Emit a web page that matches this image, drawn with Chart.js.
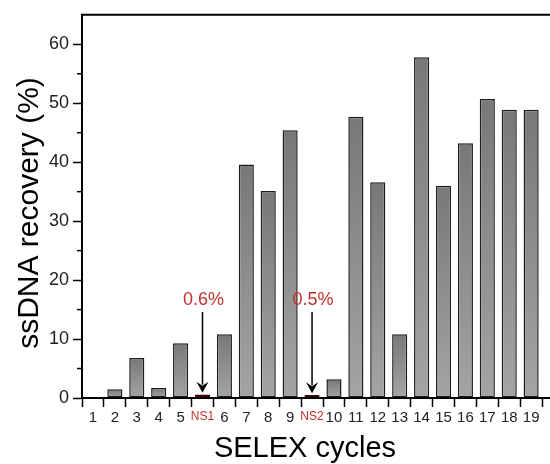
<!DOCTYPE html>
<html>
<head>
<meta charset="utf-8">
<script src="https://cdn.jsdelivr.net/npm/chart.js@4.4.1/dist/chart.umd.min.js"></script>
<style>
	html, body { margin: 0; padding: 0; background: #fff; overflow: hidden; }
	#wrap { width: 566px; height: 464px; }
</style>
</head>
<body>
<div id="wrap"><canvas id="chart"></canvas></div>
<script>
// cycles (the trailing blank slot is the empty end of the axis)
let cycles = ["1","2","3","4","5","NS1","6","7","8","9","NS2","10","11","12","13","14","15","16","17","18","19",""];
let recovery = [0, 1.5, 6.8, 1.7, 9.3, 0.6, 10.8, 39.6, 35.1, 45.4, 0.5, 3.2, 47.7, 36.6, 10.8, 57.8, 36.0, 43.2, 50.7, 48.9, 48.9, null];
let yTicks = [0, 10, 20, 30, 40, 50, 60];
let yMinor = [5, 15, 25, 35, 45, 55];
let noteLabels = ["NS1", "NS2"];
let noteTexts = ["0.6%", "0.5%"];
let noteTop = [16.6, 16.6];    // y value of the text
let arrowFrom = [14.6, 14.6];  // y value where arrow starts
let arrowTo = [0.9, 0.8];      // y value of arrow tip

const RED = "#c0302b";
const FONT = "'Liberation Sans', Arial, sans-serif";

function isNS(i) { return cycles[i] && cycles[i].indexOf("NS") === 0; }

function barFill(ctx) {
	let chart = ctx.chart;
	let i = ctx.dataIndex;
	if (isNS(i)) return "#8e1c1c";
	let y = chart.scales.y;
	if (!y || !chart.chartArea) return "#8c8c8c";
	let top = y.getPixelForValue(recovery[i] || 0);
	let bot = y.getPixelForValue(0);
	if (!(bot > top)) return "#8c8c8c";
	let g = chart.ctx.createLinearGradient(0, top, 0, bot);
	g.addColorStop(0, "#787878");
	g.addColorStop(1, "#a4a4a4");
	return g;
}

let decor = {
	id: "decor",
	afterDraw(chart) {
		let c = chart.ctx;
		let a = chart.chartArea;
		let x = chart.scales.x, y = chart.scales.y;
		c.save();
		// top frame line
		c.strokeStyle = "#000";
		c.lineWidth = 2;
		c.beginPath();
		c.moveTo(a.left - 1, a.top);
		c.lineTo(chart.width, a.top);
		c.stroke();
		// minor y ticks
		c.lineWidth = 1.5;
		yMinor.forEach(v => {
			let py = y.getPixelForValue(v);
			c.beginPath();
			c.moveTo(a.left - 5, py);
			c.lineTo(a.left, py);
			c.stroke();
		});
		// notes with arrows
		noteLabels.forEach((lab, k) => {
			let px = x.getPixelForValue(cycles.indexOf(lab));
			c.fillStyle = RED;
			c.font = "18px " + FONT;
			c.textAlign = "center";
			c.textBaseline = "bottom";
			c.fillText(noteTexts[k], px + 1, y.getPixelForValue(noteTop[k]) + 9);
			let y0 = y.getPixelForValue(arrowFrom[k]);
			let y1 = y.getPixelForValue(arrowTo[k]);
			c.strokeStyle = "#000";
			c.lineWidth = 1.5;
			c.beginPath();
			c.moveTo(px, y0);
			c.lineTo(px, y1 - 8);
			c.stroke();
			c.fillStyle = "#000";
			c.beginPath();
			c.moveTo(px - 6, y1 - 11);
			c.lineTo(px, y1 - 7);
			c.lineTo(px + 6, y1 - 11);
			c.lineTo(px, y1);
			c.closePath();
			c.fill();
		});
		// axis titles
		c.fillStyle = "#000";
		c.font = "29px " + FONT;
		c.textAlign = "center";
		c.textBaseline = "middle";
		c.fillText("SELEX cycles", 305, 449);
		c.font = "30px " + FONT;
		c.translate(30, 213);
		c.rotate(-Math.PI / 2);
		c.fillText("ssDNA recovery (%)", 0, 0);
		c.restore();
	}
};

new Chart(document.getElementById("chart"), {
	type: "bar",
	data: {
		labels: cycles,
		datasets: [{
			data: recovery,
			backgroundColor: barFill,
			borderColor: ctx => isNS(ctx.dataIndex) ? "#3a0808" : "#1e1e1e",
			borderWidth: 1.5,
			borderSkipped: false,
			barPercentage: 0.69,
			categoryPercentage: 1.0
		}]
	},
	options: {
		responsive: true,
		maintainAspectRatio: false,
		animation: false,
		layout: { padding: { top: 11, right: 2, left: 0, bottom: 0 } },
		plugins: {
			legend: { display: false },
			tooltip: { enabled: false }
		},
		scales: {
			x: {
				offset: true,
				grid: {
					display: true,
					drawOnChartArea: false,
					drawTicks: true,
					tickLength: 9,
					tickWidth: 1.5,
					tickColor: "#000"
				},
				border: { display: true, color: "#000", width: 2 },
				ticks: {
					autoSkip: false,
					maxRotation: 0,
					padding: 2,
					color: ctx => isNS(ctx.index) ? RED : "#222",
					font: ctx => isNS(ctx.index) ? { family: FONT, size: 12 } : { family: FONT, size: 15 }
				},
				afterFit: s => { s.height = 66; }
			},
			y: {
				min: 0,
				max: 65,
				grid: {
					display: true,
					drawOnChartArea: false,
					drawTicks: true,
					tickLength: 9,
					tickWidth: 1.5,
					tickColor: "#000"
				},
				border: { display: true, color: "#000", width: 2 },
				afterBuildTicks: s => { s.ticks = yTicks.map(v => ({ value: v })); },
				ticks: {
					padding: 4,
					color: "#222",
					font: { family: FONT, size: 18 },
					callback: v => String(v)
				},
				afterFit: s => { s.width = 82; }
			}
		}
	},
	plugins: [decor]
});
</script>
</body>
</html>
